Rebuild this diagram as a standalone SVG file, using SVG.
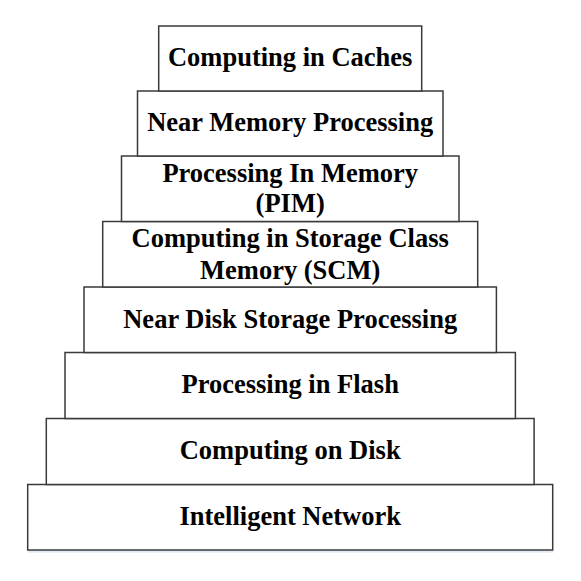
<svg xmlns="http://www.w3.org/2000/svg" width="581" height="581" viewBox="0 0 581 581">
  <style>
    .box { fill: #ffffff; stroke: #3a3a3a; stroke-width: 1.5; }
    .lbl { font-family: "Liberation Serif", "Times New Roman", serif; font-weight: bold; font-size: 26.5px; fill: #000000; text-anchor: middle; }
  </style>
  <rect width="581" height="581" fill="#ffffff"/>
  <line x1="28" y1="551.5" x2="553" y2="551.5" stroke="#e2eaf4" stroke-width="2.5"/>
  <g id="node-intelligent-network">
    <rect class="box" x="27.7" y="484.5" width="525" height="65.5"/>
    <text class="lbl" x="290.2" y="525">Intelligent Network</text>
  </g>
  <g id="node-computing-on-disk">
    <rect class="box" x="46.3" y="418.5" width="487.8" height="66"/>
    <text class="lbl" x="290.2" y="459">Computing on Disk</text>
  </g>
  <g id="node-processing-in-flash">
    <rect class="box" x="65" y="352.5" width="450.4" height="66"/>
    <text class="lbl" x="290.2" y="393">Processing in Flash</text>
  </g>
  <g id="node-near-disk-storage">
    <rect class="box" x="84" y="287" width="412.4" height="65.5"/>
    <text class="lbl" x="290.2" y="327.5">Near Disk Storage Processing</text>
  </g>
  <g id="node-scm">
    <rect class="box" x="102.7" y="221.5" width="375" height="65.5"/>
    <text class="lbl" x="290.2" y="247">Computing in Storage Class</text>
    <text class="lbl" x="290.2" y="278.5">Memory (SCM)</text>
  </g>
  <g id="node-pim">
    <rect class="box" x="121.5" y="156" width="337.5" height="65.5"/>
    <text class="lbl" x="290.2" y="181.5">Processing In Memory</text>
    <text class="lbl" x="290.2" y="212">(PIM)</text>
  </g>
  <g id="node-near-memory">
    <rect class="box" x="137.5" y="91" width="305.5" height="65"/>
    <text class="lbl" x="290.2" y="131">Near Memory Processing</text>
  </g>
  <g id="node-computing-in-caches">
    <rect class="box" x="158.7" y="26" width="263" height="65"/>
    <text class="lbl" x="290.2" y="66">Computing in Caches</text>
  </g>
  <g id="connectors"></g>
</svg>
